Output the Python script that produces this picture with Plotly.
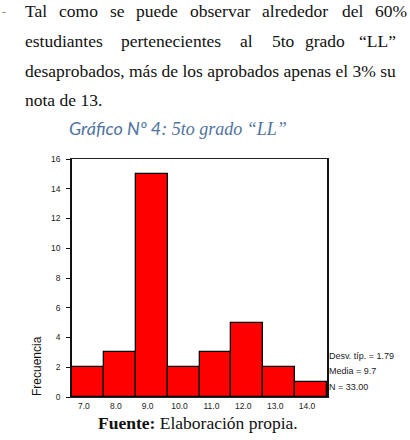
import plotly.graph_objects as go

# ---- data ----
bins = [7, 8, 9, 10, 11, 12, 13, 14]
freq = [2, 3, 15, 2, 3, 5, 2, 1]
tick_labels = ["7.0", "8.0", "9.0", "10.0", "11.0", "12.0", "13.0", "14.0"]
stats_lines = ["Desv. típ. = 1.79", "Media = 9.7", "N = 33.00"]
line1_words = ["Tal", "como", "se", "puede", "observar", "alrededor", "del", "60%"]
line2_words = ["estudiantes", "pertenecientes", "al", "5to", "grado", "“LL”"]
line3_text = "desaprobados, más de los aprobados apenas el 3% su"
line4_text = "nota de 13."

# ---- layout geometry (pixels) ----
W, H = 410, 440
L, R, T, B = 72, 327, 159, 397
PW, PH = R - L, B - T


def px(x):
    return (x - L) / PW


def py(y):
    return (B - y) / PH


fig = go.Figure()
fig.add_trace(go.Bar(
    x=bins, y=freq, width=1,
    marker=dict(color="#FF0000", line=dict(color="#000000", width=1.3)),
    hoverinfo="skip", showlegend=False,
))

serif = "Liberation Serif"
sans = "Arial, Liberation Sans"
ann = []

# paragraph text (justified lines placed word by word)
x1 = [23, 57, 108, 134, 188, 260, 340, 373]
for w, x in zip(line1_words, x1):
    ann.append(dict(text=w, x=px(x), y=py(11), xanchor="left", yanchor="middle",
                    font=dict(family=serif, size=17.5, color="#111")))
x2 = [23, 119, 238, 270, 303, 357]
for w, x in zip(line2_words, x2):
    ann.append(dict(text=w, x=px(x), y=py(41), xanchor="left", yanchor="middle",
                    font=dict(family=serif, size=17.5, color="#111")))
ann.append(dict(text=line3_text, x=px(23), y=py(71), xanchor="left", yanchor="middle",
                font=dict(family=serif, size=17.5, color="#111")))
ann.append(dict(text=line4_text, x=px(23), y=py(100), xanchor="left", yanchor="middle",
                font=dict(family=serif, size=17.5, color="#111")))
ann.append(dict(text="-", x=px(0), y=py(12), xanchor="left", yanchor="middle",
                font=dict(family=serif, size=12, color="#888")))

# caption
ann.append(dict(
    text="<i><span style='font-family:Lato'>Gráfico Nº 4</span>: 5to grado “LL”</i>",
    x=px(67), y=py(128), xanchor="left", yanchor="middle",
    font=dict(family=serif, size=18, color="#4F74A0")))

# y axis title
ann.append(dict(text="Frecuencia", textangle=-90, x=px(37), y=py(398),
                xanchor="center", yanchor="bottom",
                font=dict(family=sans, size=12, color="#111")))

# stats
for s, y in zip(stats_lines, [356, 371, 387]):
    ann.append(dict(text=s, x=px(327), y=py(y), xanchor="left", yanchor="middle",
                    font=dict(family=sans, size=9, color="#222")))

# source
ann.append(dict(text="<b>Fuente:</b> Elaboración propia.", x=px(198), y=py(423),
                xanchor="center", yanchor="middle",
                font=dict(family=serif, size=17.5, color="#111")))

for a in ann:
    a.update(xref="paper", yref="paper", showarrow=False)

fig.update_layout(
    width=W, height=H,
    margin=dict(l=L, r=W - R, t=T, b=H - B, pad=0),
    paper_bgcolor="white", plot_bgcolor="white",
    bargap=0,
    annotations=ann,
    xaxis=dict(range=[6.5, 14.5], tickvals=bins, ticktext=tick_labels,
               showline=True, linecolor="#222", linewidth=1.3, mirror=True,
               ticks="", showgrid=False, zeroline=False, ticklabelshift=-4,
               ticklabelstandoff=1,
               tickfont=dict(family=sans, size=8.5, color="#222"),
               fixedrange=True),
    yaxis=dict(range=[0, 16], dtick=2, showline=True, linecolor="#111", linewidth=1.5,
               mirror=True, ticks="outside", ticklen=4, tickcolor="#111", tickwidth=1,
               showgrid=False, zeroline=False, ticklabelstandoff=4,
               tickfont=dict(family=sans, size=8.5, color="#222"),
               fixedrange=True),
)

fig.write_html("out.html")
